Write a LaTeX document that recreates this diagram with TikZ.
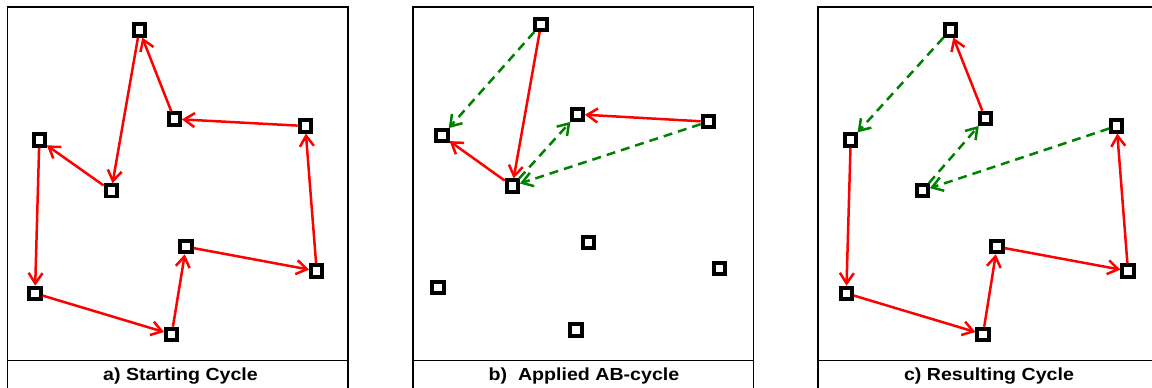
\documentclass[tikz,border=0pt]{standalone}
\usepackage{fontspec}
\setmainfont{Liberation Sans}
\usetikzlibrary{arrows.meta}
\definecolor{dgreen}{RGB}{0,128,0}
\tikzset{
  pt/.style={draw=black, fill=white, line width=3.9pt, rectangle, minimum size=11.3pt, inner sep=0pt},
  redarr/.style={draw=red, line width=2.5pt, -{Straight Barb[length=10.5pt,width=14pt]}},
  grnarr/.style={draw=dgreen, line width=2.5pt, dash pattern=on 9pt off 6pt, -{Straight Barb[length=10.5pt,width=14pt]}},
  frameline/.style={draw=black, line width=1.4pt},
  captxt/.style={font=\fontsize{17.5}{20}\selectfont\bfseries, anchor=base, xscale=1.12, inner sep=0pt}
}
\begin{document}
\begin{tikzpicture}[x=1pt,y=-1pt]
\useasboundingbox (0,0) rectangle (1152,388);
\clip (0,0) rectangle (1152,388);
% frames
\foreach \l in {7.5,413,818}{
  \draw[frameline] (\l,400) -- (\l,7) -- (\l+340.5,7) -- (\l+340.5,400);
  \draw[frameline] (\l,360.7) -- (\l+340.5,360.7);
}
\node[captxt] (capa) at (180.5,380) {a) Starting Cycle};
\node[captxt] (capb) at (584,380) {b)\ \ Applied AB-cycle};
\node[captxt] (capc) at (989,380) {c) Resulting Cycle};
% panel a
\node[pt] (a1) at (139.3,30) {};
\node[pt] (a2) at (174.3,119) {};
\node[pt] (a3) at (305.3,126) {};
\node[pt] (a4) at (39.3,140) {};
\node[pt] (a5) at (111.2,190.8) {};
\node[pt] (a6) at (186,246.7) {};
\node[pt] (a7) at (316.7,271) {};
\node[pt] (a8) at (35,293.3) {};
\node[pt] (a9) at (171.7,334.3) {};
\draw[redarr] (a2) -- (a1);
\draw[redarr] (a1) -- (a5);
\draw[redarr] (a3) -- (a2);
\draw[redarr] (a5) -- (a4);
\draw[redarr] (a4) -- (a8);
\draw[redarr] (a8) -- (a9);
\draw[redarr] (a9) -- (a6);
\draw[redarr] (a6) -- (a7);
\draw[redarr] (a7) -- (a3);
% panel b
\node[pt] (b1) at (541,24.3) {};
\node[pt] (b2) at (577.3,114.3) {};
\node[pt] (b3) at (708.3,121.7) {};
\node[pt] (b4) at (442,135.7) {};
\node[pt] (b5) at (512.3,186) {};
\node[pt] (b6) at (588.7,242.7) {};
\node[pt] (b7) at (719.3,268.3) {};
\node[pt] (b8) at (438,287.7) {};
\node[pt] (b9) at (576,330) {};
\draw[redarr] (b1) -- (b5);
\draw[redarr] (b5) -- (b4);
\draw[redarr] (b3) -- (b2);
\draw[grnarr] (b1) -- (b4);
\draw[grnarr] (b5) -- (b2);
\draw[grnarr] (b3) -- (b5);
% panel c
\node[pt] (c1) at (950.3,30) {};
\node[pt] (c2) at (985.3,118.3) {};
\node[pt] (c3) at (1116.7,126) {};
\node[pt] (c4) at (850.7,140) {};
\node[pt] (c5) at (922.3,190.7) {};
\node[pt] (c6) at (997,246.7) {};
\node[pt] (c7) at (1128,271) {};
\node[pt] (c8) at (846.3,293.3) {};
\node[pt] (c9) at (983,334.3) {};
\draw[redarr] (c2) -- (c1);
\draw[grnarr] (c1) -- (c4);
\draw[redarr] (c4) -- (c8);
\draw[redarr] (c8) -- (c9);
\draw[redarr] (c9) -- (c6);
\draw[redarr] (c6) -- (c7);
\draw[redarr] (c7) -- (c3);
\draw[grnarr] (c3) -- (c5);
\draw[grnarr] (c5) -- (c2);
\end{tikzpicture}
\end{document}
